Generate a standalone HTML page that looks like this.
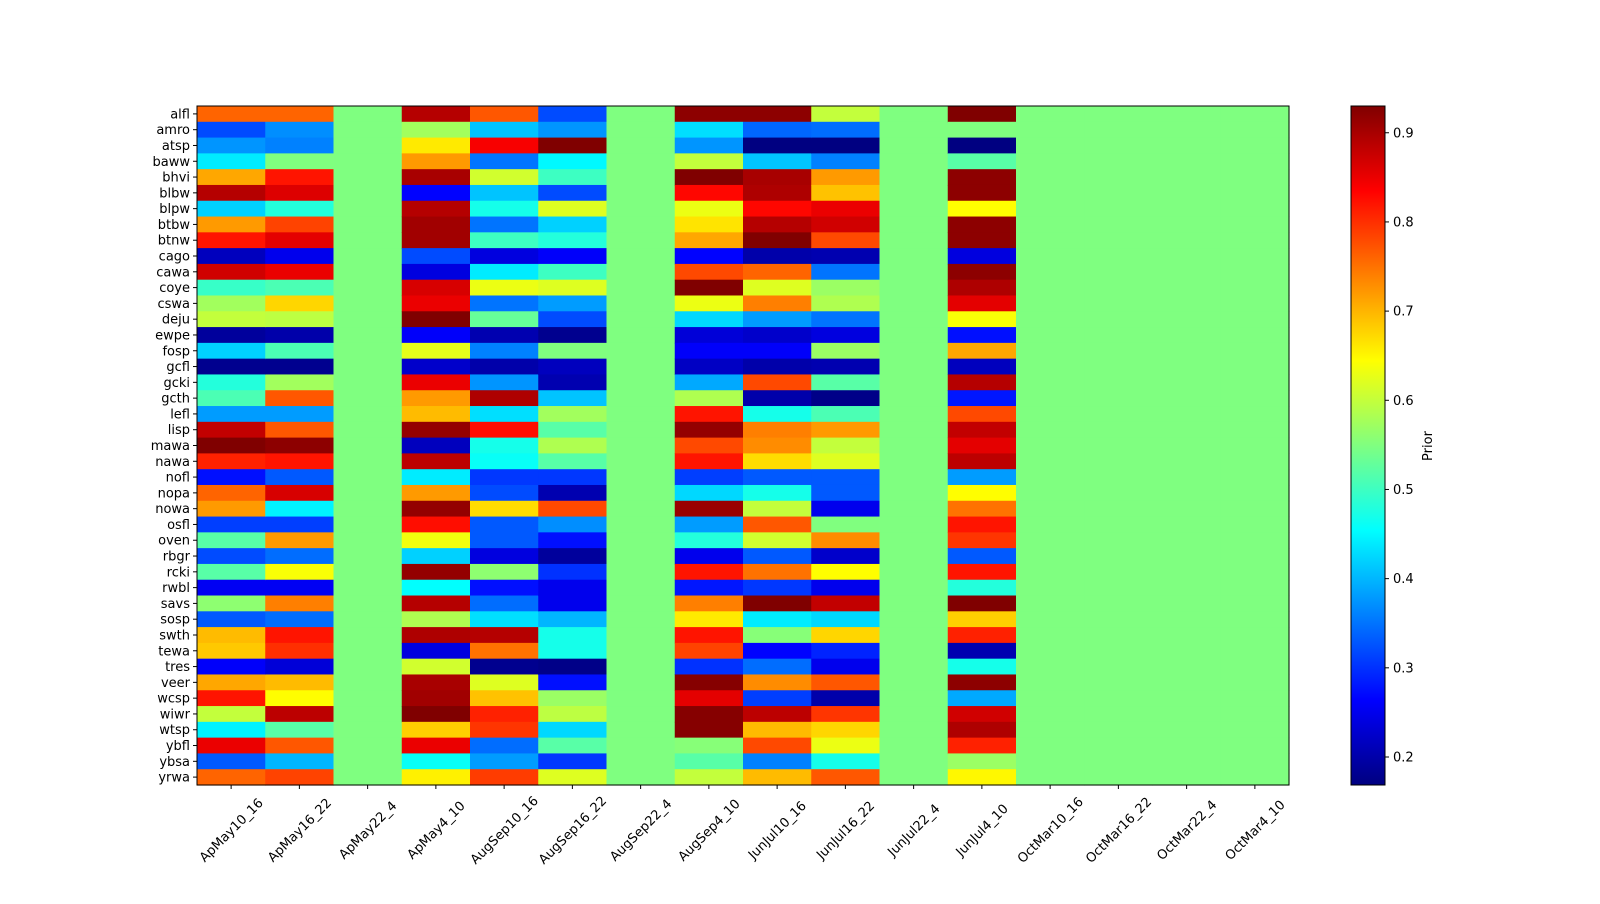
<!DOCTYPE html>
<html><head><meta charset="utf-8"><style>
body{margin:0;background:#fff;font-family:"DejaVu Sans","Liberation Sans",sans-serif;}
svg text{font-family:"DejaVu Sans","Liberation Sans",sans-serif;font-size:13px;fill:#000;}
</style></head><body>
<svg id="chart" width="1600" height="900" xmlns="http://www.w3.org/2000/svg"></svg>
<script>
const rows=["alfl","amro","atsp","baww","bhvi","blbw","blpw","btbw","btnw","cago","cawa","coye","cswa","deju","ewpe","fosp","gcfl","gcki","gcth","lefl","lisp","mawa","nawa","nofl","nopa","nowa","osfl","oven","rbgr","rcki","rwbl","savs","sosp","swth","tewa","tres","veer","wcsp","wiwr","wtsp","ybfl","ybsa","yrwa"];
const cols=["ApMay10_16","ApMay16_22","ApMay22_4","ApMay4_10","AugSep10_16","AugSep16_22","AugSep22_4","AugSep4_10","JunJul10_16","JunJul16_22","JunJul22_4","JunJul4_10","OctMar10_16","OctMar16_22","OctMar22_4","OctMar4_10"];
const fillValue=0.549;
const colorTicks=[0.2,0.3,0.4,0.5,0.6,0.7,0.8,0.9];
const vmin=0.1686, vmax=0.930;
const ApMay10_16=[.76,.32,.375,.44,.71,.89,.42,.72,.82,.215,.87,.495,.575,.60,.19,.42,.18,.48,.51,.38,.88,.93,.81,.275,.76,.72,.31,.52,.32,.52,.255,.56,.33,.695,.685,.26,.71,.82,.60,.445,.85,.33,.76];
const ApMay16_22=[.76,.37,.36,.55,.82,.86,.48,.785,.855,.25,.85,.51,.675,.595,.20,.51,.18,.575,.77,.38,.77,.92,.82,.33,.865,.445,.31,.72,.345,.64,.255,.74,.345,.82,.80,.235,.695,.645,.885,.52,.77,.40,.785];
const ApMay4_10=[.89,.575,.66,.72,.90,.265,.89,.905,.905,.32,.24,.865,.85,.93,.26,.625,.225,.85,.72,.695,.915,.215,.885,.44,.72,.915,.825,.635,.42,.915,.455,.89,.585,.895,.24,.61,.90,.905,.93,.68,.85,.46,.655];
const AugSep10_16=[.77,.41,.84,.35,.61,.41,.47,.35,.50,.24,.44,.63,.35,.53,.205,.36,.20,.375,.895,.43,.825,.47,.46,.305,.32,.67,.33,.33,.24,.56,.275,.345,.43,.89,.75,.18,.62,.69,.81,.795,.345,.38,.79];
const AugSep16_22=[.32,.375,.93,.45,.50,.32,.62,.42,.48,.26,.50,.62,.38,.32,.18,.55,.215,.205,.41,.575,.52,.585,.52,.305,.205,.78,.37,.275,.19,.30,.25,.25,.40,.47,.47,.175,.275,.57,.595,.425,.52,.305,.62];
const AugSep4_10=[.92,.43,.375,.60,.93,.83,.63,.665,.71,.265,.78,.93,.63,.425,.235,.26,.22,.39,.585,.82,.915,.78,.82,.31,.425,.91,.38,.48,.25,.82,.28,.74,.66,.82,.785,.30,.925,.855,.925,.925,.555,.52,.60];
const JunJul10_16=[.92,.34,.17,.41,.90,.895,.83,.89,.93,.20,.76,.62,.74,.38,.225,.26,.20,.78,.20,.47,.74,.73,.67,.33,.47,.60,.77,.61,.33,.75,.305,.93,.44,.555,.265,.345,.73,.31,.885,.695,.78,.36,.695];
const JunJul16_22=[.60,.345,.17,.36,.72,.69,.85,.87,.78,.205,.35,.57,.585,.35,.24,.57,.205,.52,.175,.51,.72,.60,.62,.33,.33,.25,.55,.73,.225,.645,.25,.88,.425,.675,.29,.25,.77,.20,.795,.675,.63,.47,.77];
const JunJul4_10=[.93,.55,.17,.52,.92,.92,.645,.92,.92,.24,.92,.895,.855,.64,.275,.71,.215,.89,.28,.78,.88,.855,.885,.38,.645,.75,.82,.795,.33,.82,.48,.93,.68,.81,.205,.47,.92,.39,.87,.895,.81,.57,.65];
const series={"ApMay10_16":ApMay10_16,"ApMay16_22":ApMay16_22,"ApMay4_10":ApMay4_10,"AugSep10_16":AugSep10_16,"AugSep16_22":AugSep16_22,"AugSep4_10":AugSep4_10,"JunJul10_16":JunJul10_16,"JunJul16_22":JunJul16_22,"JunJul4_10":JunJul4_10};

const NS="http://www.w3.org/2000/svg";
const svg=document.getElementById('chart');
const X0=197,X1=1289,Y0=106,Y1=785;
const cw=(X1-X0)/cols.length, rh=(Y1-Y0)/rows.length;
const xPos=i=>X0+i*cw, yPos=j=>Y0+j*rh;
function jet(v){let t=(v-vmin)/(vmax-vmin);t=Math.max(0,Math.min(1,t));
 const c=x=>Math.round(255*Math.max(0,Math.min(1,x)));
 return `rgb(${c(1.5-Math.abs(4*t-3))},${c(1.5-Math.abs(4*t-2))},${c(1.5-Math.abs(4*t-1))})`;}
function mk(tag,attrs,parent){const e=document.createElementNS(NS,tag);for(const k in attrs)e.setAttribute(k,attrs[k]);(parent||svg).appendChild(e);return e;}

const cells=mk('g',{});


cols.forEach((cn,i)=>{rows.forEach((rn,j)=>{
  const arr=series[cn]; const v=arr?arr[j]:fillValue;
  const r=mk('rect',{x:xPos(i),y:yPos(j),width:cw+0.6,height:rh+0.6,fill:jet(v)},cells);
  
  
});});
const frame=mk('rect',{x:X0,y:Y0,width:X1-X0,height:Y1-Y0,fill:'none',stroke:'#000','stroke-width':1});



rows.forEach((rn,j)=>{const y=yPos(j)+rh/2;
  mk('line',{x1:X0-4,x2:X0,y1:y,y2:y,stroke:'#000'});
  const t=mk('text',{x:X0-7,y:y+4.5,'text-anchor':'end'});t.textContent=rn;
  
  
});
cols.forEach((cn,i)=>{const x=xPos(i)+cw/2; const cy0=Y1+45;
  mk('line',{x1:x,x2:x,y1:Y1,y2:Y1+4,stroke:'#000'});
  const t=mk('text',{x:x,y:cy0+4.5,'text-anchor':'middle',transform:`rotate(-45 ${x} ${cy0})`});t.textContent=cn;
  
  
});

const CX=1351,CW=34;
const defs=mk('defs',{});
const lg=mk('linearGradient',{id:'cbg',x1:0,y1:1,x2:0,y2:0},defs);
for(let k=0;k<=40;k++){const v=vmin+(vmax-vmin)*k/40;mk('stop',{offset:k/40,'stop-color':jet(v)},lg);}
const cb=mk('rect',{x:CX,y:Y0,width:CW,height:Y1-Y0,fill:'url(#cbg)',stroke:'#000'});


const cy=v=>Y1-(v-vmin)/(vmax-vmin)*(Y1-Y0);
colorTicks.forEach(v=>{const y=cy(v);
  mk('line',{x1:CX+CW,x2:CX+CW+4,y1:y,y2:y,stroke:'#000'});
  const t=mk('text',{x:CX+CW+8,y:y+4.5});t.textContent=v.toFixed(1);
  
  
});
const ct=mk('text',{x:1432,y:446,'text-anchor':'middle',transform:'rotate(-90 1432 446)'});ct.textContent='Prior';


</script>
</body></html>
